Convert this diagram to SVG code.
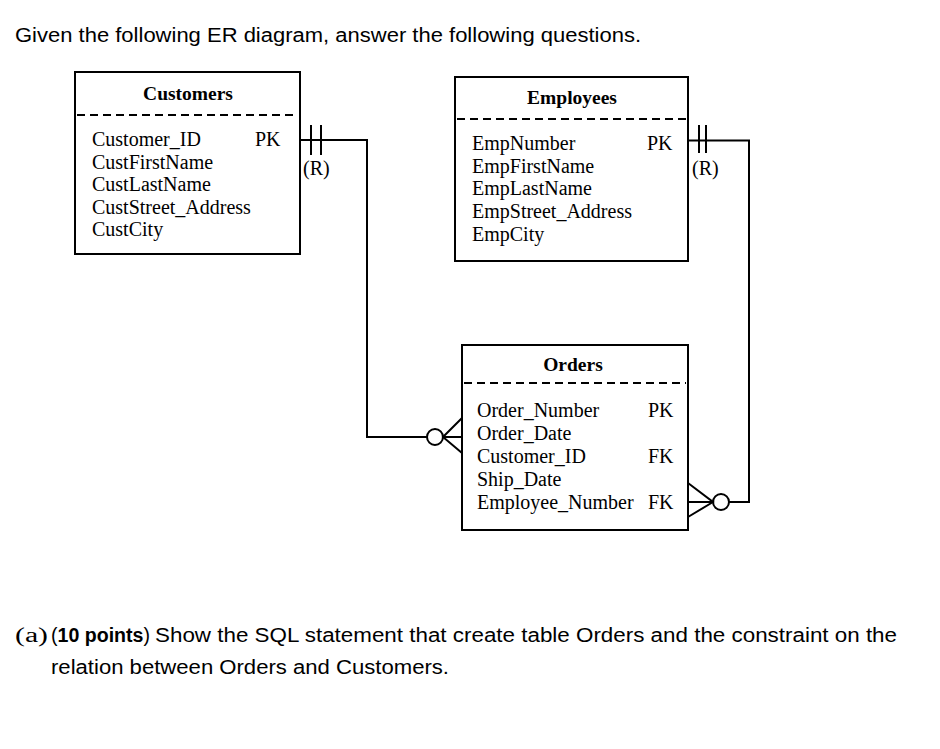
<svg xmlns="http://www.w3.org/2000/svg" width="940" height="749" viewBox="0 0 940 749">
<style>
.box{fill:#fff;stroke:#000;stroke-width:2}
.dash{stroke:#000;stroke-width:2;stroke-dasharray:8 5}
.t{font-family:"Liberation Serif","Times New Roman",serif;font-size:20px;fill:#000}
.h{font-family:"Liberation Serif","Times New Roman",serif;font-size:19.5px;font-weight:bold;fill:#000;text-anchor:middle}
.c{fill:none;stroke:#000;stroke-width:2}
.s{font-family:"Liberation Sans",Arial,sans-serif;font-size:19.5px;fill:#000}
</style>
<rect width="940" height="749" fill="#fff"/>
<text class="s" x="15" y="42" textLength="626" lengthAdjust="spacingAndGlyphs">Given the following ER diagram, answer the following questions.</text>
<g id="customers">
<rect class="box" x="75" y="72" width="225" height="182"/>
<text class="h" x="188" y="100">Customers</text>
<line class="dash" x1="77" y1="115" x2="298" y2="115"/>
<text class="t" x="92" y="146">Customer_ID</text>
<text class="t" x="255" y="146">PK</text>
<text class="t" x="92" y="168.5">CustFirstName</text>
<text class="t" x="92" y="191">CustLastName</text>
<text class="t" x="92" y="213.5">CustStreet_Address</text>
<text class="t" x="92" y="236">CustCity</text>
</g>
<g id="employees">
<rect class="box" x="455" y="77" width="233" height="184"/>
<text class="h" x="572" y="104">Employees</text>
<line class="dash" x1="457" y1="119" x2="686" y2="119"/>
<text class="t" x="472" y="150">EmpNumber</text>
<text class="t" x="647" y="150">PK</text>
<text class="t" x="472" y="172.7">EmpFirstName</text>
<text class="t" x="472" y="195.4">EmpLastName</text>
<text class="t" x="472" y="218">EmpStreet_Address</text>
<text class="t" x="472" y="240.8">EmpCity</text>
</g>
<g id="orders">
<rect class="box" x="462" y="345" width="226" height="185"/>
<text class="h" x="573" y="371">Orders</text>
<line class="dash" x1="464" y1="383" x2="686" y2="383"/>
<text class="t" x="477" y="417">Order_Number</text>
<text class="t" x="648" y="417">PK</text>
<text class="t" x="477" y="440">Order_Date</text>
<text class="t" x="477" y="463">Customer_ID</text>
<text class="t" x="648" y="463">FK</text>
<text class="t" x="477" y="486">Ship_Date</text>
<text class="t" x="477" y="509">Employee_Number</text>
<text class="t" x="648" y="509">FK</text>
</g>
<g id="connectors">
<path class="c" d="M300,140 H367 V437 H427"/>
<line class="c" x1="311" y1="125" x2="311" y2="155"/>
<line class="c" x1="321" y1="125" x2="321" y2="155"/>
<circle class="c" cx="435" cy="437" r="8"/>
<path class="c" d="M462,418 L443,437 L462,453 M443,437 H462"/>
<path class="c" d="M688,140.5 H749 V502 H729"/>
<line class="c" x1="699" y1="125" x2="699" y2="153"/>
<line class="c" x1="706" y1="125" x2="706" y2="153"/>
<circle class="c" cx="721" cy="502" r="8"/>
<path class="c" d="M688,483 L713,502 L688,517 M713,502 H688"/>
<text class="t" x="303" y="175">(R)</text>
<text class="t" x="692" y="175">(R)</text>
</g>
<text class="t" x="15" y="642" textLength="33" lengthAdjust="spacingAndGlyphs">(a)</text>
<text class="s" x="51" y="642" textLength="99" lengthAdjust="spacingAndGlyphs">(<tspan font-weight="bold">10 points</tspan>)</text>
<text class="s" x="155" y="642" textLength="742" lengthAdjust="spacingAndGlyphs">Show the SQL statement that create table Orders and the constraint on the</text>
<text class="s" x="51" y="674" textLength="398" lengthAdjust="spacingAndGlyphs">relation between Orders and Customers.</text>
</svg>
